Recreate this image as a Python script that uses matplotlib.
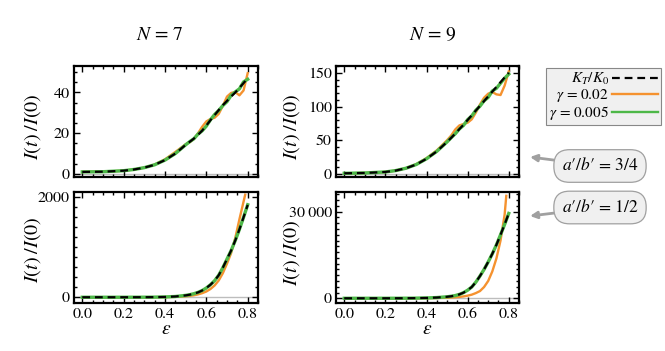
import matplotlib
matplotlib.use("Agg")
import matplotlib.pyplot as plt
from matplotlib.ticker import MultipleLocator
from matplotlib.lines import Line2D

plt.rcParams['font.family'] = ['STIXGeneral', 'DejaVu Serif']
plt.rcParams['mathtext.fontset'] = 'stix'

# shared epsilon grid
eps = [0.0, 0.1, 0.2, 0.25, 0.3, 0.35, 0.4, 0.45, 0.5, 0.52, 0.54, 0.56,
       0.58, 0.6, 0.62, 0.64, 0.66, 0.68, 0.7, 0.72, 0.74, 0.76, 0.78, 0.8]
# the gamma = 0.02 curves of the lower panels stop a bit earlier
eps_cut = [0.0, 0.1, 0.2, 0.25, 0.3, 0.35, 0.4, 0.45, 0.5, 0.52, 0.54, 0.56,
           0.58, 0.6, 0.62, 0.64, 0.66, 0.68, 0.7, 0.72, 0.74, 0.76, 0.78, 0.788]

# N = 7, a'/b' = 3/4
n7_top_kt = [1, 1.1, 1.6, 2.2, 3.1, 4.5, 6.8, 10, 14.3, 15.8, 17.4, 19.2,
             21.3, 23.8, 26.4, 28.9, 31.4, 33.8, 35.9, 38, 40, 42.3, 44.6, 47]
n7_top_g02 = [1, 1.1, 1.6, 2.2, 3.1, 4.6, 7.2, 10.8, 14.6, 15.6, 17.2, 20,
              23.2, 25.8, 27, 27.6, 29.5, 33.5, 38, 39.8, 40.2, 38.6, 41, 49.5]
n7_top_g005 = [1, 1.1, 1.6, 2.2, 3.1, 4.5, 6.8, 10, 14.3, 15.9, 17.3, 19.6,
               21.2, 23.5, 26.6, 29.2, 31.2, 33.6, 35.5, 38.6, 40.3, 41.8, 45.2, 46.5]

# N = 9, a'/b' = 3/4
n9_top_kt = [1, 1.5, 3, 5, 8.5, 14, 22.5, 33.5, 47.5, 53.5, 60, 66.5,
             73, 80, 87, 94, 101, 108, 115, 122, 129, 136, 143, 150]
n9_top_g02 = [1, 1.5, 3, 5, 8.6, 14.5, 23.5, 35, 50, 57, 66, 72,
              74, 76, 81, 91, 103, 113, 119, 121.5, 118, 117, 131, 152]
n9_top_g005 = [1, 1.5, 3, 5, 8.5, 14, 22.5, 33.5, 47.5, 53.8, 59.6, 66.8,
               72, 80.5, 86, 94.5, 100.5, 108.5, 113.5, 123, 127, 134.5, 142, 148]

# N = 7, a'/b' = 1/2
n7_bot_kt = [1, 1, 1.2, 1.5, 2, 3.5, 7, 16, 38, 52, 72, 98,
             135, 185, 250, 330, 440, 590, 760, 930, 1130, 1350, 1590, 1835]
n7_bot_g02 = [1, 1, 1.1, 1.3, 1.6, 2.5, 4.5, 9, 20, 28, 40, 58,
              82, 115, 165, 235, 335, 480, 670, 880, 1180, 1550, 1900, 2040]
n7_bot_g005 = [1, 1, 1.2, 1.5, 2, 3.5, 7, 16, 38, 52, 72, 98,
               135, 185, 250, 330, 440, 590, 760, 930, 1130, 1350, 1590, 1840]

# N = 9, a'/b' = 1/2
n9_bot_kt = [1, 2, 5, 10, 25, 55, 120, 250, 520, 700, 950, 1350,
             1950, 2800, 3900, 5600, 7700, 10000, 12600, 15400, 18500, 22000, 25600, 29400]
n9_bot_g02 = [1, 1.5, 3, 6, 12, 25, 50, 100, 190, 260, 350, 470,
              650, 900, 1250, 1800, 2500, 3900, 6000, 9300, 13800, 20000, 29000, 35500]
n9_bot_g005 = [1, 2, 5, 10, 25, 55, 120, 250, 520, 700, 950, 1350,
               1950, 2800, 3900, 5600, 7700, 10000, 12600, 15400, 18500, 22000, 25600, 29400]

orange = '#f5922f'
green = '#4db848'

fig = plt.figure(figsize=(6.65, 3.51), dpi=100)

panels = [
    # rect, kt, g02, x for g02, g005, ylim, yticks, labels, minor step, bottom row
    ([0.1113, 0.4957, 0.2767, 0.3162], n7_top_kt, n7_top_g02, eps, n7_top_g005,
     (-1.5, 53), [0, 20, 40], ['0', '20', '40'], 5, False),
    ([0.5053, 0.4957, 0.2752, 0.3162], n9_top_kt, n9_top_g02, eps, n9_top_g005,
     (-4.5, 160), [0, 50, 100, 150], ['0', '50', '100', '150'], 10, False),
    ([0.1113, 0.1368, 0.2767, 0.3162], n7_bot_kt, n7_bot_g02, eps_cut, n7_bot_g005,
     (-113, 2093), [0, 2000], ['0', '2000'], 200, True),
    ([0.5053, 0.1368, 0.2752, 0.3162], n9_bot_kt, n9_bot_g02, eps_cut, n9_bot_g005,
     (-1630, 36820), [0, 30000], ['0', '30\u2009000'], 2000, True),
]

for rect, kt, g02, x02, g005, ylim, yt, ytl, minor, bottom in panels:
    ax = fig.add_axes(rect)
    ax.axhline(0, color='#bdbdbd', lw=1.0, zorder=1)
    ax.plot(x02, g02, color=orange, lw=1.7, zorder=2)
    ax.plot(eps, g005, color=green, lw=2.4, zorder=3)
    ax.plot(eps, kt, color='black', lw=1.6, dashes=(3.5, 2.2), zorder=4)
    ax.set_xlim(-0.04, 0.85)
    ax.set_ylim(*ylim)
    ax.set_xticks([0, 0.2, 0.4, 0.6, 0.8])
    ax.xaxis.set_minor_locator(MultipleLocator(0.05))
    ax.set_yticks(yt, ytl)
    ax.yaxis.set_minor_locator(MultipleLocator(minor))
    ax.tick_params(which='both', direction='in', top=True, right=True,
                   labelsize=11.5, width=1.0, pad=3)
    ax.tick_params(which='major', length=4.5)
    ax.tick_params(which='minor', length=2.5)
    for s in ax.spines.values():
        s.set_linewidth(1.6)
    if bottom:
        ax.set_xticklabels(['0.0', '0.2', '0.4', '0.6', '0.8'])
        ax.set_xlabel(r'$\varepsilon$', fontsize=14, labelpad=0)
    else:
        ax.set_xticklabels([])

# y labels
for x, y in [(33, 127), (292, 127), (33, 250), (292, 253)]:
    fig.text(x / 665, 1 - y / 351, r'$I(t)\;/I(0)$', rotation=90,
             ha='center', va='center', fontsize=14.5)

# column titles
fig.text(160 / 665, 1 - 35 / 351, r'$N$ = 7', ha='center', va='center', fontsize=14)
fig.text(433 / 665, 1 - 35 / 351, r'$N$ = 9', ha='center', va='center', fontsize=14)

# legend
handles = [Line2D([], [], color='black', lw=1.6, dashes=(3.5, 2.2)),
           Line2D([], [], color=orange, lw=1.7),
           Line2D([], [], color=green, lw=1.7)]
labels = [r'$K_T/K_0$', r'$\gamma$ = 0.02', r'$\gamma$ = 0.005']
leg = fig.legend(handles, labels, loc='upper left',
                 bbox_to_anchor=(546 / 665, 1 - 68 / 351), borderaxespad=0,
                 markerfirst=False, fancybox=False, framealpha=1,
                 facecolor='#f0f0f0', edgecolor='#888888', fontsize=11,
                 handlelength=3.0, handletextpad=0.2, labelspacing=0.0,
                 borderpad=0.2)
leg.get_frame().set_linewidth(0.8)

# annotations, placed in pixel-like coordinates
box = dict(boxstyle='round,pad=0.45,rounding_size=0.9', fc='#f0f0f0',
           ec='#a0a0a0', lw=0.9)
arrow = dict(arrowstyle='-|>', color='#a0a0a0', lw=2.0, mutation_scale=10,
             shrinkA=0, shrinkB=0)
ann_ax = fig.add_axes([0, 0, 1, 1], facecolor='none')
ann_ax.set_axis_off()
ann_ax.set_xlim(0, 665)
ann_ax.set_ylim(351, 0)
ann_ax.annotate("$a$\u2032/$b$\u2032 = 3/4", xy=(530, 157), xytext=(600, 166),
                ha='center', va='center', fontsize=12.5, bbox=box,
                arrowprops=arrow)
ann_ax.annotate("$a$\u2032/$b$\u2032 = 1/2", xy=(530, 216), xytext=(600, 207.5),
                ha='center', va='center', fontsize=12.5, bbox=box,
                arrowprops=arrow)

fig.savefig('out.png', dpi=100)
